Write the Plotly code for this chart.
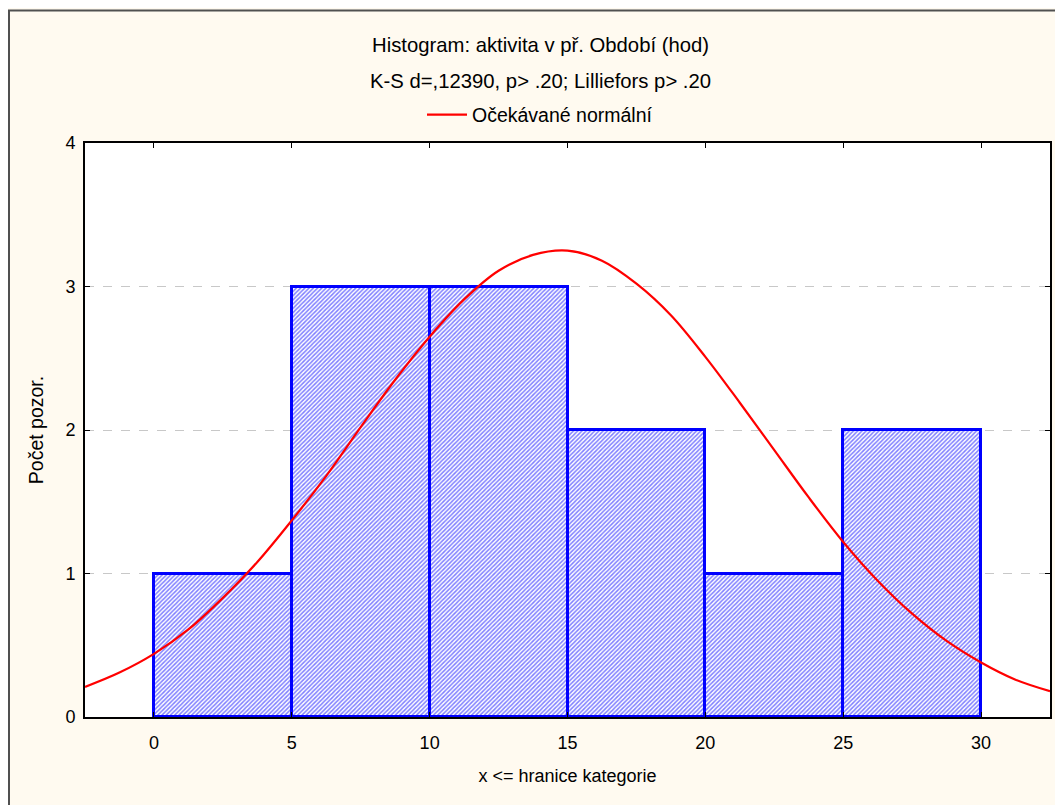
import plotly.graph_objects as go

# Data
bin_edges = [0, 5, 10, 15, 20, 25, 30]
counts = [1, 3, 3, 2, 1, 2]
curve_x = [-2.5, -1.25, 0, 1.25, 2.5, 3.75, 5, 6.25, 7.5, 8.75, 10, 11.25, 12.5, 13.75,
           15, 16.25, 17.5, 18.75, 20, 21.25, 22.5, 23.75, 25, 26.25, 27.5, 28.75, 30, 31.25, 32.5]
curve_y = [0.21, 0.31, 0.44, 0.61, 0.83, 1.08, 1.37, 1.68, 2.02, 2.35, 2.65, 2.91, 3.11, 3.22,
           3.25, 3.18, 3.02, 2.80, 2.51, 2.19, 1.86, 1.53, 1.22, 0.95, 0.72, 0.53, 0.38, 0.26, 0.18]
x_ticks = [0, 5, 10, 15, 20, 25, 30]
y_ticks = [0, 1, 2, 3, 4]

title1 = "Histogram: aktivita v př. Období (hod)"
title2 = "K-S d=,12390, p> .20; Lilliefors p> .20"
legend_name = "Očekávané normální"

centers = [(bin_edges[i] + bin_edges[i + 1]) / 2 for i in range(len(counts))]
widths = [bin_edges[i + 1] - bin_edges[i] for i in range(len(counts))]

FONT = "Liberation Sans, Arial, sans-serif"
FS = 18

fig = go.Figure()
fig.add_trace(go.Bar(
    x=centers, y=counts, width=widths,
    marker=dict(
        color="white",
        line=dict(color="#0000FF", width=3),
        pattern=dict(shape="/", fgcolor="#0000FF", bgcolor="white", size=3, solidity=0.5),
    ),
    showlegend=False, hoverinfo="skip",
))
fig.add_trace(go.Scatter(
    x=curve_x, y=curve_y, mode="lines", name=legend_name,
    line=dict(color="#FF0000", width=2.2, shape="spline", smoothing=1.0),
))

# page has an 8px body margin; figure coordinates = screen - 8
W, H = 1055, 797
OFF = 8
L, R, T, B = 85 - OFF, 13, 143 - OFF, 88
pw, ph = W - L - R, H - T - B

def px_x(p):  # screen pixel -> paper x
    return (p - OFF - L) / pw

def px_y(p):  # screen pixel -> paper y
    return (H - B - (p - OFF)) / ph

CX = px_x(540)  # header block is centred on the whole picture

fig.update_layout(
    width=W, height=H,
    margin=dict(l=L, r=R, t=T, b=B),
    paper_bgcolor="#FFFAF0",
    plot_bgcolor="white",
    font=dict(family=FONT, size=FS, color="black"),
    bargap=0,
    showlegend=True,
    legend=dict(
        x=CX, xanchor="center", y=px_y(115), yanchor="middle",
        bgcolor="rgba(0,0,0,0)", font=dict(size=19.5, family=FONT),
        itemwidth=40,
    ),
    xaxis=dict(
        range=[-2.5, 32.5], tickvals=x_ticks, ticks="inside", ticklen=5,
        tickcolor="black", showline=True, linecolor="black", linewidth=2,
        mirror="allticks", showgrid=False, zeroline=False,
        tickfont=dict(size=FS), ticklabelstandoff=8,
        title=dict(text="x <= hranice kategorie", font=dict(size=FS), standoff=18),
    ),
    yaxis=dict(
        range=[0, 4], tickvals=y_ticks, ticks="inside", ticklen=5,
        tickcolor="black", showline=True, linecolor="black", linewidth=2,
        mirror="allticks", showgrid=True, gridcolor="#C8C8C8", griddash="dash",
        gridwidth=1, zeroline=False, tickfont=dict(size=FS), ticklabelstandoff=4,
        title=dict(text="Počet pozor.", font=dict(size=19.5), standoff=17),
    ),
    annotations=[
        dict(text=title1, x=CX, y=px_y(45), xref="paper", yref="paper",
             showarrow=False, font=dict(size=20.3), yanchor="middle", xanchor="center"),
        dict(text=title2, x=CX, y=px_y(81), xref="paper", yref="paper",
             showarrow=False, font=dict(size=20.3), yanchor="middle", xanchor="center"),
    ],
    shapes=[
        dict(type="rect", xref="paper", yref="paper",
             x0=px_x(9), x1=px_x(1080), y0=px_y(830), y1=px_y(10.5),
             line=dict(color="#505050", width=2), layer="below"),
    ],
)

fig.write_html("out.html")
